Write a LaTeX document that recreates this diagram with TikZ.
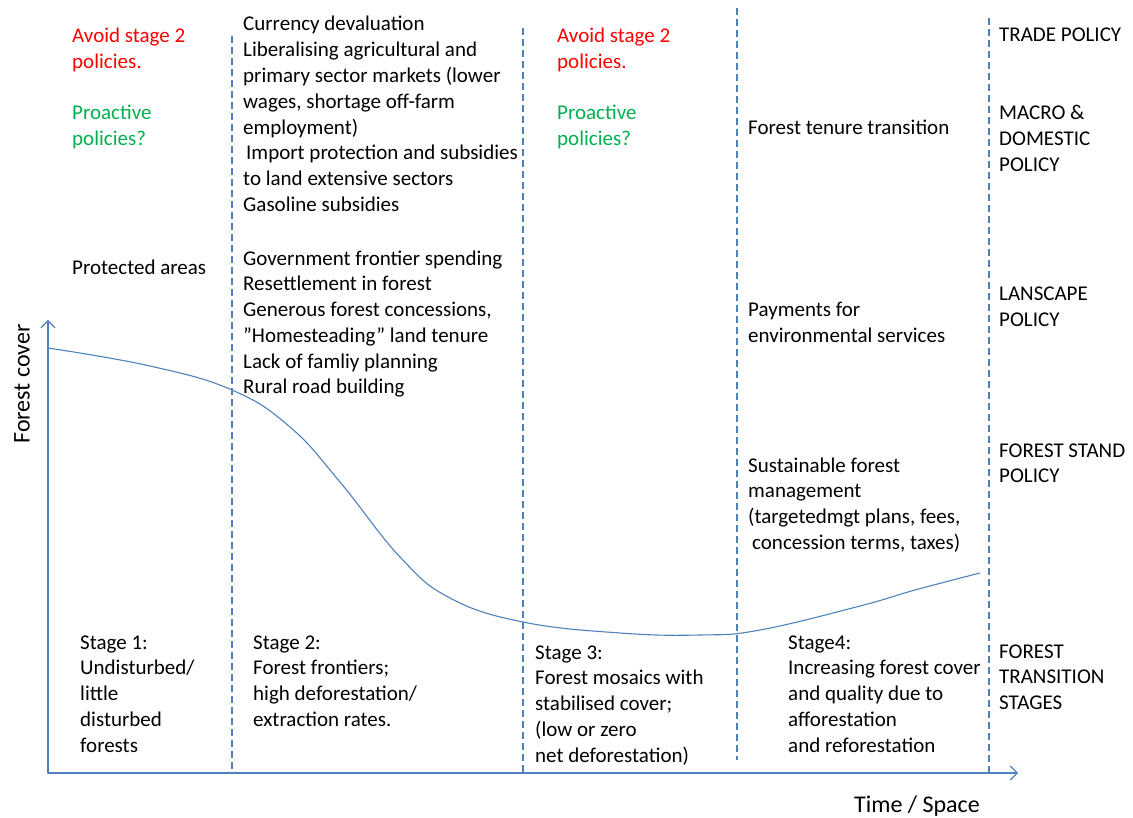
\documentclass[tikz,border=0pt]{standalone}
\usepackage{fontspec}
\setmainfont{Carlito}
\usetikzlibrary{positioning,arrows.meta}
\definecolor{axisblue}{RGB}{79,129,189}
\definecolor{avoidred}{RGB}{255,0,0}
\definecolor{proactgreen}{RGB}{0,176,80}
\def\lskip{25.8}
\tikzset{
  txt/.style={anchor=base west, align=left, inner sep=0pt, font=\fontsize{21}{25.8}\selectfont},
  divider/.style={axisblue, dash pattern=on 7pt off 4pt, line width=1.2pt, line cap=butt},
  axisline/.style={axisblue, line width=1.2pt, -{Straight Barb[length=7pt,width=14pt]}},
}
\begin{document}
\begin{tikzpicture}[x=1pt, y=-1pt, line join=round, line cap=round]
	\useasboundingbox (0,0) rectangle (1133,818);
	% axes
	\coordinate (O) at (48,773);
	\coordinate (ytip) at (48,320);
	\coordinate (xtip) at (1018,773);
	\draw[axisline] (O) -- (ytip);
	\draw[axisline] (O) -- (xtip);
	\node[rotate=90, font=\fontsize{24}{28}\selectfont, inner sep=0pt] (ylab) at (22,384) {Forest cover};
	\node[anchor=base east, font=\fontsize{24}{28}\selectfont, inner sep=0pt] (xlab) at (980,812) {Time / Space};
	% stage dividers
	\foreach \i/\x/\t/\b in {1/232/36/773, 2/523/28/773, 3/737/8/760, 4/989/18/773}{
		\coordinate (div\i t) at (\x,\t);
		\coordinate (div\i b) at (\x,\b);
		\draw[divider] (div\i t) -- (div\i b);
	}
	% forest transition curve
	\draw[axisblue, line width=1.1pt] plot[smooth, tension=0.7] coordinates {(48,348) (150,366) (232,390) (290,427) (340,482) (400,557) (450,598) (523,622) (620,633) (700,635) (760,630) (860,606) (915,590) (980,573)};
	% (multi-line nodes sit on the baseline of their last line)
	% stage 1 column
	\node[txt, avoidred] (avoidA) at (72,{43+\lskip}) {Avoid stage 2\\policies.};
	\node[txt, proactgreen] (proactA) at (72,{120+\lskip}) {Proactive\\policies?};
	\node[txt] (protected) at (72,275) {Protected areas};
	% stage 2 column
	\node[txt] (macroB) at (243,{31+7*\lskip}) {Currency devaluation\\Liberalising agricultural and\\primary sector markets (lower\\wages, shortage off-farm\\employment)\\\hspace{3pt}Import protection and subsidies\\to land extensive sectors\\Gasoline subsidies};
	\node[txt] (landB) at (243,{265+5*\lskip}) {Government frontier spending\\Resettlement in forest\\Generous forest concessions,\\”Homesteading” land tenure\\Lack of famliy planning\\Rural road building};
	% stage 3 column
	\node[txt, avoidred] (avoidC) at (557,{43+\lskip}) {Avoid stage 2\\policies.};
	\node[txt, proactgreen] (proactC) at (557,{120+\lskip}) {Proactive\\policies?};
	% stage 4 column
	\node[txt] (tenure) at (748,135) {Forest tenure transition};
	\node[txt] (pes) at (748,{317+\lskip}) {Payments for\\environmental services};
	\node[txt] (sfm) at (748,{472+3*\lskip}) {Sustainable forest\\management\\(targetedmgt plans, fees,\\\hspace{4pt}concession terms, taxes)};
	% policy levels
	\node[txt] (trade) at (999,42) {TRADE POLICY};
	\node[txt] (macro) at (999,{120+2*\lskip}) {MACRO \&\\DOMESTIC\\POLICY};
	\node[txt] (landscape) at (999,{301+\lskip}) {LANSCAPE\\POLICY};
	\node[txt] (stand) at (999,{457+\lskip}) {FOREST STAND\\POLICY};
	\node[txt] (fts) at (999,{658+2*\lskip}) {FOREST\\TRANSITION\\STAGES};
	% stages
	\node[txt] (stageA) at (80,{649+4*\lskip}) {Stage 1:\\Undisturbed/\\little\\disturbed\\forests};
	\node[txt] (stageB) at (253,{649+3*\lskip}) {Stage 2:\\Forest frontiers;\\high deforestation/\\extraction rates.};
	\node[txt] (stageC) at (535,{659+4*\lskip}) {Stage 3:\\Forest mosaics with\\stabilised cover;\\(low or zero\\net deforestation)};
	\node[txt] (stageD) at (788,{649+4*\lskip}) {Stage4:\\Increasing forest cover\\and quality due to\\afforestation\\and reforestation};
\end{tikzpicture}
\end{document}
